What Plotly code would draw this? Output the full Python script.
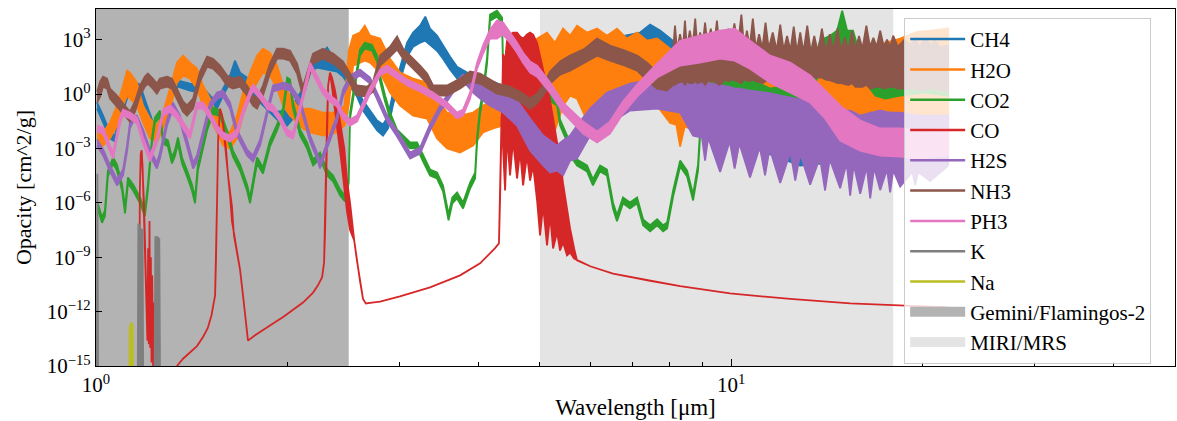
import math
import plotly.graph_objects as go

# ---------------- data (wavelength in um; opacity stored as log10 values) -------------
# CH4
ch4_lam = [1.004,1.026,1.052,1.071,1.091,1.119,1.144,1.173,1.194,1.225,1.252,1.284,1.317,1.346,1.406,1.458,1.512,1.551,1.585,1.626,1.655,1.686,1.729,1.793,1.859,1.928,2.0,2.043,2.118,2.173,2.228,2.311,2.396,2.449,2.512,2.576,2.633,2.701,2.771,2.831,2.883,2.936,3.012,3.089,3.157,3.238,3.3,3.357,3.443,3.519,3.61,3.703,3.84,3.981,4.173,4.375,4.603,5.003,5.379,5.783,6.219,6.684,7.19,7.456,7.731,8.016,8.619,9.61,11.11,12.85,15.4,18.46,21.97]
ch4_hi = [-0.47,-1.19,-2.12,-2.29,-1.19,0.08,0.69,0.52,-0.30,-1.41,-2.12,-1.02,0.25,0.74,0.58,0.52,-0.09,-0.47,0.30,1.02,1.84,1.18,0.91,0.08,-0.47,-0.97,-0.91,-0.58,0.30,1.62,1.90,2.56,1.68,1.40,0.85,0.30,-0.36,-0.91,-1.46,-1.68,-1.24,0.08,1.51,2.83,3.39,3.77,4.27,3.61,3.22,2.67,2.06,1.51,1.18,0.91,0.74,0.47,0.30,1.29,2.12,2.67,2.94,3.17,3.39,3.83,3.50,3.06,2.12,1.29,0.47,-0.09,-0.36,-0.36,-0.09]
ch4_lo = [-0.80,-1.52,-2.45,-2.62,-1.52,-0.25,0.30,0.08,-0.64,-1.74,-2.45,-1.35,-0.09,0.41,0.19,0.08,-0.42,-0.80,-0.09,0.63,0.85,0.74,0.52,-0.30,-0.86,-1.41,-1.74,-1.35,-0.14,1.18,1.46,1.35,1.24,0.96,0.41,-0.14,-0.91,-1.46,-2.01,-2.29,-1.90,-0.58,0.74,2.06,2.61,2.83,2.94,2.72,2.39,1.95,1.35,0.85,0.63,0.36,0.08,-1.46,-1.90,-0.91,-0.09,0.30,0.47,0.74,0.85,1.02,0.74,0.08,-1.46,-2.56,-3.12,-3.94,-3.67,-3.67,-3.39]

# H2O
h2o_lam = [1.004,1.026,1.052,1.079,1.103,1.119,1.131,1.16,1.186,1.216,1.247,1.275,1.308,1.341,1.371,1.406,1.442,1.474,1.512,1.551,1.585,1.626,1.667,1.704,1.748,1.793,1.832,1.879,1.928,1.971,2.021,2.073,2.118,2.173,2.277,2.396,2.462,2.5,2.54,2.604,2.65,2.701,2.801,2.904,3.012,3.157,3.321,3.443,3.571,3.744,3.924,4.068,4.219,4.375,4.653,4.878,4.949,5.131,5.28,5.438,5.578,5.72,5.931,6.152,6.376,6.612,6.856,7.112,7.375,7.648,
           8.016,8.2,8.313,8.45,8.619,9.0,9.1,9.25,9.61,10.0,10.13,10.3,10.71,11.1,11.31,11.5,11.95,12.4,12.62,12.85,13.32,13.6,13.8,14.06,14.85,15.4,15.68,15.9,16.56,17.2,17.5,17.8,18.46,19.49,19.8,20.1,20.58,21.97]
h2o_hi = [-1.90,-2.12,-1.57,-0.64,0.47,1.29,1.18,0.63,-0.64,-1.35,-1.74,-1.02,0.30,1.73,2.12,1.73,1.40,0.47,-0.25,-1.19,-1.90,-2.12,-1.19,0.08,1.18,2.12,2.50,2.28,1.57,0.47,-0.09,-0.64,-0.80,-0.80,-1.02,-1.02,-0.64,2.39,3.22,3.39,3.77,3.22,3.06,1.95,1.18,0.85,0.63,-0.25,-1.02,-1.19,-1.02,-0.64,-0.36,-0.25,-0.09,1.84,3.06,3.39,2.83,3.61,3.22,3.77,3.39,3.61,3.22,3.61,3.06,3.39,2.94,3.06,
          2.50,2.30,2.12,2.00,1.84,1.75,1.73,1.70,1.57,1.57,1.57,1.57,1.57,1.57,1.57,1.57,1.57,1.65,1.73,1.73,1.73,1.80,1.84,1.84,2.12,2.20,2.28,2.40,2.67,2.75,2.83,2.90,3.06,3.39,3.45,3.45,3.50,3.61]
h2o_lo = [-2.67,-2.84,-2.45,-1.74,-0.64,-0.09,-0.25,-0.64,-1.57,-2.45,-2.67,-1.90,-0.80,0.63,1.02,0.85,0.30,-0.64,-1.35,-2.12,-2.84,-3.00,-2.45,-1.19,-0.09,0.63,1.18,1.02,0.30,-0.64,-1.19,-1.57,-1.90,-2.12,-2.29,-2.12,-1.74,-0.64,1.57,1.73,1.84,1.73,1.18,0.08,-0.64,-1.19,-1.35,-2.45,-3.00,-3.23,-2.84,-2.12,-1.90,-1.74,-1.74,-1.19,-1.02,-0.64,-2.01,-0.64,-0.09,-0.25,-1.46,-0.64,0.19,0.30,-0.91,0.30,-0.09,-0.64,
          -1.60,-1.70,-2.90,-1.80,-1.90,-2.00,-3.30,-2.10,-2.40,-2.60,-4.00,-2.70,-2.80,-2.90,-4.30,-2.90,-3.00,-3.00,-4.40,-2.90,-2.80,-2.60,-3.80,-2.50,-2.20,-2.00,-3.00,-1.90,-1.80,-1.70,-2.60,-1.70,-1.70,-1.60,-2.40,-1.60,-1.70,-1.70]

# CO2
co2_lam = [1.007,1.022,1.033,1.044,1.064,1.079,1.099,1.111,1.123,1.144,1.173,1.194,1.207,1.225,1.238,1.261,1.275,1.298,1.317,1.331,1.346,1.366,1.391,1.416,1.432,1.447,1.469,1.496,1.528,1.568,1.608,1.643,1.686,1.729,1.748,1.793,1.832,1.879,1.928,1.971,2.0,2.021,2.043,2.096,2.149,2.197,2.253,2.311,2.362,2.423,2.466,2.5,2.512,2.55,2.604,2.65,2.72,2.771,2.801,2.852,2.904,2.979,3.045,3.123,3.203,3.273,3.357,3.443,3.519,3.59,3.64,3.703,3.784,3.882,3.953,3.981,4.025,4.068,4.128,4.173,4.279,4.359,4.375,4.407,4.653,5.003,5.131,5.321,5.379,5.517,5.578,5.72,5.931,6.06,6.219,6.376,6.517,6.612,6.757,6.931,7.112,7.268,7.456,7.648,7.816,7.93,8.105,8.313,8.526,8.713,8.87,9.0,9.1,9.61,10.17,10.82,11.52,12.23,12.85,13.32,13.81,14.32,14.69,14.96,15.23,15.56,15.97,16.4,16.88,17.5,18.46,20.2,21.97]
co2_hi = [-6.05,-6.80,-6.41,-4.21,-3.50,-3.89,-4.99,-6.25,-4.60,-4.99,-5.70,-6.41,-4.99,-2.40,-1.30,-0.91,-2.40,-2.56,-3.50,-3.12,-2.40,-3.50,-4.21,-4.99,-5.70,-3.89,-2.95,-1.68,-0.74,-0.91,-2.01,-3.12,-3.89,-4.99,-5.70,-3.50,-4.05,-2.56,-1.68,-0.74,0.91,0.80,-0.47,-1.96,-2.67,-3.61,-3.23,-4.16,-4.49,-5.27,-5.60,-4.60,-1.02,0.47,2.45,2.83,2.72,2.12,1.02,-0.08,-1.02,-1.96,-2.29,-2.67,-2.67,-3.39,-4.16,-4.33,-5.04,-6.64,-5.70,-5.43,-5.98,-4.88,-4.33,-2.40,-0.74,0.19,2.01,4.38,4.60,4.22,1.62,-0.14,0.08,0.30,0.08,-0.30,-1.41,-2.29,-3.06,-3.61,-3.94,-4.71,-3.94,-4.16,-5.98,-6.69,-5.70,-5.98,-5.70,-6.91,-7.24,-6.91,-7.24,-7.08,-5.32,-3.67,-4.22,-5.54,-3.89,-0.20,0.52,0.74,0.85,0.74,0.30,0.47,1.18,1.02,2.94,3.22,3.50,4.60,3.50,3.50,2.12,1.18,0.85,0.63,1.02,1.29,1.18]
co2_lo = [-6.38,-7.10,-6.74,-4.54,-3.83,-4.22,-5.32,-6.58,-4.93,-5.32,-6.03,-6.74,-5.32,-2.73,-1.63,-1.24,-2.73,-2.89,-3.83,-3.45,-2.73,-3.83,-4.54,-5.32,-6.03,-4.22,-3.28,-2.01,-1.08,-1.24,-2.34,-3.45,-4.22,-5.32,-6.03,-3.83,-4.38,-2.89,-2.01,-1.08,0.58,0.47,-0.80,-2.29,-3.00,-3.94,-3.56,-4.49,-4.82,-5.60,-5.93,-4.90,-1.35,0.14,2.12,2.50,2.39,1.79,0.69,-0.41,-1.35,-2.29,-2.62,-3.00,-3.00,-3.72,-4.49,-4.66,-5.37,-6.97,-6.03,-5.76,-6.31,-5.21,-4.66,-2.73,-1.08,-0.14,1.68,4.05,4.27,3.89,1.29,-0.47,-0.25,-0.10,-0.25,-0.64,-1.74,-2.62,-3.39,-3.94,-4.27,-5.04,-4.27,-4.49,-6.31,-7.02,-6.03,-6.31,-6.03,-7.24,-7.57,-7.24,-7.57,-7.41,-5.65,-4.00,-4.55,-5.87,-4.22,-0.53,0.19,-0.36,-0.25,-0.36,-1.02,-0.91,-0.25,-0.09,1.29,2.50,2.50,2.67,2.50,2.39,1.02,0.47,-0.09,-0.25,-0.09,0.08,-0.09]

# CO
co_lam = [1.160,1.170,1.172,1.176,1.180,1.184,1.190,1.196,1.200,1.205,1.208,1.211,1.214,1.217,1.220,1.223,1.226,1.230,1.235,1.240,1.335,1.341,1.371,1.406,1.442,1.474,1.500,1.520,1.540,1.545,1.551,1.557,1.568,1.580,1.590,1.603,1.614,1.626,1.637,1.649,1.667,1.686,1.704,1.723,1.735,1.780,1.832,1.900,1.971,2.043,2.118,2.197,2.236,2.270,2.286,2.295,2.303,2.311,2.320,2.336,2.353,2.379,2.400,2.430,2.460,2.485,2.512,2.550,2.576,2.604,2.633,2.660,2.720,2.801,3.010,3.357,3.744,4.025,4.250,4.310,4.327,4.340,4.350,4.375,4.407,4.438,4.487,4.536,4.603,4.653,4.704,4.772,4.825,4.878,4.949,5.003,5.058,5.131,5.188,5.245,5.321,5.379,5.438,5.517,5.578,5.660,5.720,6.000,6.517,7.456,8.313,9.960,12.39,15.40,18.00,21.97]
co_hi = [-17,-17,-5.5,-3.3,-3.1,-4.0,-6.0,-9.0,-11.5,-13.6,-8.5,-13.8,-7.0,-14.0,-9.0,-14.8,-10.0,-15.5,-11.5,-17,-17,-15.0,-14.6,-14.25,-13.9,-13.4,-12.9,-12.2,-11.1,-9.2,-5.9,-2.56,-0.8,-1.2,-2.0,-3.1,-4.5,-5.6,-6.2,-7.8,-8.63,-9.7,-11.1,-12.5,-13.6,-13.3,-13.0,-12.65,-12.3,-11.9,-11.5,-10.95,-10.55,-10.1,-9.3,-7.5,-4.77,-1.46,0.47,1.18,0.9,0.2,-0.6,-1.8,-3.0,-4.8,-6.0,-8.07,-9.2,-10.3,-11.3,-11.55,-11.5,-11.45,-11.16,-10.66,-10.0,-9.34,-8.5,-8.24,-5.87,-3.1,-1.2,2.19,1.84,2.94,3.28,3.39,3.39,3.17,3.06,3.28,3.39,3.28,2.83,2.12,1.40,0.47,-0.36,-1.35,-2.56,-3.67,-4.93,-6.42,-7.41,-8.52,-9.18,-9.5,-9.9,-10.3,-10.6,-11.0,-11.3,-11.55,-11.66,-11.77]
co_lo = [-17,-17,-5.5,-3.3,-3.1,-4.0,-6.0,-9.0,-11.5,-13.6,-8.5,-13.8,-7.0,-14.0,-9.0,-14.8,-10.0,-15.5,-11.5,-17,-17,-15.0,-14.6,-14.25,-13.9,-13.4,-12.9,-12.2,-11.1,-9.2,-5.9,-2.56,-0.8,-1.2,-2.0,-3.1,-4.5,-5.6,-7.0,-7.8,-8.63,-9.7,-11.1,-12.5,-13.6,-13.3,-13.0,-12.65,-12.3,-11.9,-11.5,-10.95,-10.55,-10.1,-9.3,-7.5,-4.77,-1.46,0.47,1.18,0.4,-0.8,-2.0,-3.5,-5.0,-6.5,-7.5,-8.07,-9.2,-10.3,-11.3,-11.55,-11.5,-11.45,-11.16,-10.66,-10.0,-9.34,-8.5,-8.24,-5.87,-3.1,-1.2,-3.12,-5.32,-2.29,-4.49,-2.56,-4.66,-3.12,-5.04,-3.39,-4.77,-3.94,-5.87,-7.80,-6.15,-8.35,-6.70,-8.52,-7.63,-8.63,-8.19,-8.90,-8.74,-9.07,-9.18,-9.5,-9.9,-10.3,-10.6,-11.0,-11.3,-11.55,-11.66,-11.77]

# H2S
h2s_lam = [1.004,1.026,1.052,1.079,1.103,1.119,1.131,1.144,1.16,1.186,1.216,1.247,1.261,1.294,1.322,1.356,1.391,1.422,1.442,1.474,1.512,1.551,1.585,1.626,1.667,1.729,1.767,1.813,1.859,1.9,1.971,2.021,2.096,2.173,2.228,2.253,2.311,2.396,2.449,2.512,2.604,2.701,2.801,2.873,2.979,3.123,3.238,3.357,3.481,3.571,3.703,3.784,3.924,4.025,4.173,4.375,4.603,4.825,5.058,5.188,5.321,5.438,5.578,5.72,5.997,6.376,6.931,7.648,8.313,
           8.713,9.0,9.1,9.2,9.61,9.95,10.13,10.3,10.71,11.1,11.31,11.5,11.95,12.4,12.62,12.85,13.32,13.8,14.06,14.3,14.85,15.2,15.4,15.6,15.97,16.35,16.56,16.8,17.17,17.6,17.8,18.0,18.46,19.3,19.49,19.7,20.58,21.97]
h2s_hi = [-2.51,-3.06,-3.94,-4.71,-4.16,-2.84,-1.57,-1.19,-1.19,-1.96,-3.06,-3.78,-3.23,-1.41,-0.47,-1.19,-2.51,-3.78,-3.39,-1.96,-0.47,0.08,0.19,-0.47,-1.96,-3.06,-3.39,-2.51,-0.86,0.47,0.63,0.52,-0.30,-2.29,-3.23,-3.78,-2.67,-1.19,0.25,1.02,1.35,0.91,-0.30,-1.19,-2.01,-3.23,-2.95,-1.68,-0.64,-0.08,0.74,1.07,0.63,0.52,0.47,0.08,-0.36,-1.35,-2.29,-2.56,-2.84,-2.56,-2.29,-1.74,-0.80,0.08,0.58,0.85,1.02,
          0.74,0.70,0.63,0.60,0.47,0.40,0.30,0.30,0.19,0.10,0.08,0.05,-0.09,-0.20,-0.25,-0.30,-0.36,-0.55,-0.64,-0.70,-0.80,-0.90,-0.91,-1.00,-1.19,-1.10,-1.02,-1.00,-0.91,-1.00,-1.02,-1.02,-1.02,-1.15,-1.19,-1.19,-1.19,-1.19]
h2s_lo = [-2.84,-3.39,-4.27,-5.04,-4.49,-3.17,-1.90,-1.52,-1.52,-2.29,-3.39,-4.11,-3.56,-1.74,-0.80,-1.52,-2.84,-4.11,-3.72,-2.29,-0.80,-0.25,-0.14,-0.80,-2.29,-3.39,-3.72,-2.84,-1.19,0.14,0.30,0.19,-0.64,-2.62,-3.56,-4.11,-3.00,-1.52,-0.08,0.69,1.02,0.58,-0.64,-1.52,-2.34,-3.56,-3.28,-2.01,-0.97,-0.41,0.41,0.74,0.08,-0.25,-0.64,-1.02,-1.74,-3.12,-3.94,-4.33,-4.22,-4.49,-3.67,-3.56,-2.29,-1.74,-0.91,-0.80,-1.02,
          -2.30,-2.40,-3.67,-2.40,-4.30,-2.60,-4.11,-2.70,-4.60,-2.90,-4.49,-3.00,-4.90,-3.20,-4.77,-3.30,-5.00,-3.50,-5.32,-3.60,-5.20,-3.80,-5.60,-3.90,-5.50,-4.00,-5.76,-4.05,-5.30,-4.15,-5.43,-4.20,-5.10,-4.30,-5.04,-4.30,-4.80,-3.94]

# NH3
nh3_lam = [1.004,1.015,1.026,1.041,1.052,1.079,1.103,1.131,1.152,1.173,1.194,1.207,1.229,1.247,1.261,1.294,1.317,1.341,1.371,1.391,1.422,1.458,1.496,1.528,1.568,1.608,1.643,1.686,1.729,1.767,1.793,1.832,1.879,1.928,1.971,2.021,2.073,2.118,2.149,2.197,2.277,2.362,2.449,2.512,2.576,2.672,2.731,2.801,2.904,2.979,3.045,3.157,3.238,3.321,3.394,3.571,3.744,3.882,4.025,4.279,4.487,4.653,4.825,4.949,5.058,5.188,5.379,5.578,5.88,6.152,6.446,6.806,7.112,7.375,7.648,
           7.93,8.10,8.16,8.22,8.31,8.40,8.46,8.52,8.61,8.70,8.78,8.85,8.94,9.02,9.10,9.18,9.29,9.40,9.50,9.58,9.69,9.80,9.90,10.0,10.12,10.25,10.38,10.48,10.59,10.70,10.82,10.94,11.07,11.2,11.33,11.46,11.63,11.8,11.95,12.1,12.25,12.4,12.55,12.7,12.85,13.0,13.18,13.35,13.52,13.7,13.9,14.1,14.3,14.5,14.7,14.9,15.1,15.3,15.5,15.7,15.9,16.1,16.33,16.55,16.75,16.95,17.17,17.4,17.6,17.8,18.0,18.3,18.75,19.2,19.5,19.8,20.2,20.6,20.95,21.3,21.97]
nh3_hi = [0.13,0.69,0.96,0.85,0.30,-0.08,-0.52,-0.97,-0.41,0.47,0.96,1.13,0.85,0.58,0.85,0.96,0.85,0.30,-0.41,-0.63,-0.25,1.24,2.06,1.95,1.57,1.02,0.85,0.96,0.47,-0.08,-0.25,0.47,1.68,2.50,2.50,2.39,1.68,0.41,1.13,2.23,2.50,2.23,1.79,1.13,0.47,0.41,0.69,2.12,2.61,3.17,2.50,1.95,1.57,1.13,0.47,0.47,0.85,1.24,1.13,0.58,0.41,0.13,-0.25,0.02,0.47,1.24,1.79,2.12,2.50,3.06,2.67,2.39,2.12,1.73,1.18,
          1.57,2.30,3.77,2.40,3.30,2.50,4.05,2.50,3.50,2.60,4.16,2.60,3.40,2.70,3.94,2.70,3.60,2.60,4.05,2.60,3.30,2.70,3.61,2.70,3.90,2.70,4.38,2.60,3.50,2.60,4.16,2.50,3.30,2.50,3.94,2.50,3.40,2.40,3.83,2.40,3.20,2.40,3.72,2.30,3.40,2.30,3.77,2.30,3.20,2.30,3.61,2.30,3.30,2.40,3.61,2.40,3.10,2.40,3.50,2.40,3.20,2.50,3.77,2.60,3.10,2.60,3.50,2.60,3.00,2.60,3.22,2.60,3.00,2.70,3.06,2.60,3.10,2.70,2.94,2.60,2.67]
nh3_lo = [-0.47,-0.14,0.41,0.30,-0.25,-0.64,-1.08,-1.52,-0.97,-0.08,0.41,0.58,0.30,0.02,0.30,0.41,0.30,-0.25,-0.97,-1.19,-0.80,0.69,1.51,1.40,1.02,0.47,0.30,0.41,-0.08,-0.64,-0.80,-0.08,1.13,1.95,1.95,1.84,1.13,-0.14,0.58,1.68,1.95,1.68,1.24,0.58,-0.08,-0.14,0.14,1.57,2.06,2.45,1.95,1.40,1.02,0.58,-0.08,-0.08,0.30,0.69,0.58,0.02,-0.14,-0.41,-0.80,-0.52,-0.08,0.58,1.07,1.29,1.73,2.12,1.84,1.57,1.29,0.74,0.30,
          0.19,0.50,0.50,0.60,0.65,0.70,0.50,0.70,0.60,0.60,0.70,0.60,0.65,0.70,0.50,0.70,0.70,0.70,0.60,0.50,0.60,0.80,0.70,0.80,0.75,0.70,0.60,0.80,0.75,0.70,0.80,0.70,0.65,0.60,0.70,0.80,0.75,0.70,0.80,0.80,0.85,0.90,0.90,0.90,0.90,0.90,1.00,0.90,0.90,0.90,0.90,0.80,0.75,0.70,0.60,0.60,0.55,0.50,0.60,0.40,0.40,0.40,0.50,0.30,0.35,0.40,0.40,0.30,0.35,0.40,0.40,0.30,0.30,0.30,0.30,0.20,0.25,0.30,0.30,0.20,0.19]

# PH3
ph3_lam = [1.004,1.026,1.052,1.064,1.079,1.091,1.103,1.131,1.16,1.186,1.216,1.247,1.275,1.308,1.341,1.371,1.406,1.442,1.474,1.512,1.551,1.585,1.626,1.667,1.704,1.748,1.767,1.813,1.859,1.9,1.949,2.0,2.043,2.096,2.149,2.173,2.228,2.277,2.336,2.396,2.449,2.512,2.576,2.633,2.701,2.801,2.873,2.979,3.089,3.238,3.394,3.571,3.703,3.784,3.882,3.981,4.068,4.173,4.279,4.375,4.487,4.603,4.704,4.825,4.949,5.188,5.438,5.847,6.152,6.446,6.757,7.112,7.648,8.313,8.938,9.61,10.13,10.71,11.52,12.39,13.32,14.06,14.85,15.97,17.17,18.46,19.85,21.97]
ph3_hi = [-1.74,-1.85,-2.84,-3.23,-2.12,-1.30,-0.86,-1.02,-1.30,-2.40,-3.39,-2.40,-0.86,-0.63,-1.02,-1.57,-2.12,-0.47,-0.47,-1.02,-1.74,-2.12,-2.29,-1.96,-0.86,0.19,0.52,0.08,-0.47,-0.63,-1.19,-1.96,-2.12,-0.63,0.91,1.73,1.02,0.36,-0.08,-0.36,-1.02,-1.41,-1.19,-0.47,0.36,1.35,1.57,1.18,0.80,0.47,0.08,-0.47,-1.02,-0.86,0.08,1.73,2.67,3.55,4.05,3.94,3.39,2.83,2.28,1.79,1.57,0.63,-0.47,-1.52,-2.07,-1.52,-0.42,0.52,1.68,2.94,3.22,3.50,3.61,2.94,2.12,1.73,1.02,0.19,-0.64,-1.46,-1.90,-1.90,-2.01,-1.90]
ph3_lo = [-2.07,-2.18,-3.17,-3.56,-2.45,-1.63,-1.19,-1.35,-1.63,-2.73,-3.72,-2.73,-1.19,-0.97,-1.35,-1.90,-2.45,-0.80,-0.80,-1.35,-2.07,-2.45,-2.62,-2.29,-1.19,-0.14,0.19,-0.25,-0.80,-0.97,-1.52,-2.29,-2.45,-0.97,0.58,1.40,0.69,0.02,-0.41,-0.69,-1.35,-1.74,-1.52,-0.80,0.02,1.02,1.24,0.85,0.47,0.14,-0.25,-0.80,-1.35,-1.19,-0.25,1.40,2.23,3.06,3.06,3.28,2.83,2.28,1.73,1.18,0.96,0.08,-1.02,-2.18,-2.67,-2.18,-1.08,-0.14,0.91,1.57,1.73,1.95,1.84,1.40,0.63,0.08,-0.47,-1.35,-2.56,-3.12,-3.39,-3.45,-3.56,-3.39]

# K and Na (narrow atomic lines)
k_lam = [1.003,1.005,1.008,1.163,1.166,1.172,1.178,1.184,1.187,1.236,1.240,1.250,1.258,1.262]
k_hi = [-17,-4.4,-17,-17,-7.15,-7.3,-7.5,-7.5,-17,-17,-7.9,-7.9,-8.0,-17]
na_lam = [1.128,1.130,1.134,1.138,1.142,1.145]
na_hi = [-17,-12.9,-12.7,-12.6,-12.8,-17]
floor_log = -17

# instrument coverage (um)
gemini_range = [1.0, 2.5]
miri_range = [5.0, 18.0]

names = ["CH4", "H2O", "CO2", "CO", "H2S", "NH3", "PH3", "K", "Na"]
colors = ["#1f77b4", "#ff7f0e", "#2ca02c", "#d62728", "#9467bd", "#8c564b", "#e377c2", "#7f7f7f", "#bcbd22"]

x_lim = [1.0, 50.0]
y_lim_log = [-15, 4.69]

# ---------------- figure -------------
fig = go.Figure()
FONT = "Liberation Serif"
GEM_C = "rgb(179,179,179)"
MIRI_C = "rgb(228,228,228)"

def span(rng, color):
    x0, x1 = rng
    fig.add_trace(go.Scatter(x=[x0, x1, x1, x0, x0], y=[1e-20, 1e-20, 1e8, 1e8, 1e-20],
                             fill="toself", fillcolor=color, mode="lines",
                             line=dict(width=0, color=color), showlegend=False, hoverinfo="skip"))

span(gemini_range, GEM_C)
span(miri_range, MIRI_C)

def band(lam, hi, lo, color):
    assert len(lam) == len(hi) == len(lo), (len(lam), len(hi), len(lo))
    x = list(lam) + list(lam[::-1])
    y = [10 ** v for v in hi] + [10 ** v for v in lo[::-1]]
    fig.add_trace(go.Scatter(x=x, y=y, fill="toself", fillcolor=color, mode="lines",
                             line=dict(color=color, width=1.8), showlegend=False, hoverinfo="skip"))

series = [
    (ch4_lam, ch4_hi, ch4_lo),
    (h2o_lam, h2o_hi, h2o_lo),
    (co2_lam, co2_hi, co2_lo),
    (co_lam, co_hi, co_lo),
    (h2s_lam, h2s_hi, h2s_lo),
    (nh3_lam, nh3_hi, nh3_lo),
    (ph3_lam, ph3_hi, ph3_lo),
    (k_lam, k_hi, [floor_log] * len(k_lam)),
    (na_lam, na_hi, [floor_log] * len(na_lam)),
]
for (lam, hi, lo), c in zip(series, colors):
    band(lam, hi, lo, c)

for i, (n, c) in enumerate(zip(names, colors)):
    fig.add_trace(go.Scatter(x=[None], y=[None], mode="lines", line=dict(color=c, width=2.5),
                             name=n, legendrank=i + 1))
fig.add_trace(go.Scatter(x=[None], y=[None], mode="lines", line=dict(color=GEM_C, width=14),
                         name="Gemini/Flamingos-2", legendrank=20))
fig.add_trace(go.Scatter(x=[None], y=[None], mode="lines", line=dict(color=MIRI_C, width=14),
                         name="MIRI/MRS", legendrank=21))

ytick_exp = [-15, -12, -9, -6, -3, 0, 3]
fig.update_yaxes(type="log", range=y_lim_log,
                 tickvals=[10 ** e for e in ytick_exp],
                 ticktext=["10<sup>%s</sup>" % (str(e).replace("-", "\u2212")) for e in ytick_exp],
                 ticks="inside", ticklen=6, tickwidth=1, tickcolor="black",
                 showline=True, linecolor="black", linewidth=1.3, mirror=True,
                 showgrid=False, zeroline=False,
                 title=dict(text="Opacity [cm^2/g]", font=dict(family=FONT, size=22, color="black"), standoff=8),
                 tickfont=dict(family=FONT, size=21, color="black"))
xtick_major = [1, 10]
xtick_minor = [2, 3, 4, 5, 6, 7, 8, 9, 20, 30, 40]
fig.update_xaxes(type="log", range=[math.log10(x_lim[0]), math.log10(x_lim[1])],
                 tickvals=xtick_major, ticktext=["10<sup>0</sup>", "10<sup>1</sup>"],
                 ticks="inside", ticklen=7, tickwidth=1, tickcolor="black",
                 minor=dict(tickvals=xtick_minor, ticks="inside", ticklen=4, tickcolor="black", tickwidth=1),
                 showline=True, linecolor="black", linewidth=1.3, mirror=True,
                 showgrid=False, zeroline=False,
                 title=dict(text="Wavelength [\u03bcm]", font=dict(family=FONT, size=23, color="black"), standoff=2),
                 tickfont=dict(family=FONT, size=21, color="black"))

fig.update_layout(width=1177, height=421, margin=dict(l=96, r=2, t=9, b=55),
                  paper_bgcolor="white", plot_bgcolor="white",
                  font=dict(family=FONT, size=21, color="black"),
                  legend=dict(x=0.749, y=0.975, xanchor="left", yanchor="top",
                              bgcolor="rgba(255,255,255,0.8)", bordercolor="#cccccc", borderwidth=1,
                              font=dict(family=FONT, size=21, color="black"),
                              tracegroupgap=0, itemwidth=55),
                  showlegend=True)

fig.write_html("out.html")
